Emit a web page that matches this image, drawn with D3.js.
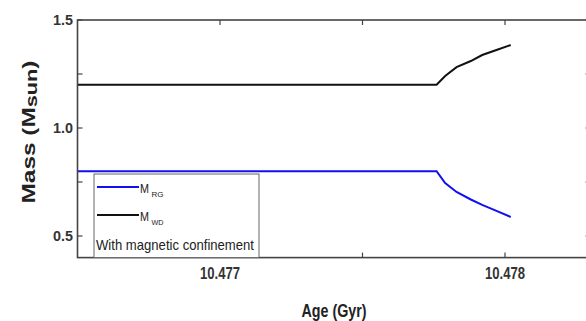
<!DOCTYPE html>
<html><head><meta charset="utf-8">
<script src="https://cdn.jsdelivr.net/npm/d3@7/dist/d3.min.js"></script>
<style>body{margin:0;background:#fff}svg{display:block}</style>
</head><body><svg id="c" width="586" height="321"></svg>
<script>
const ages   = [10.4765, 10.47776, 10.47779, 10.47783, 10.47788, 10.47792, 10.47797, 10.47802];
const massWD = [1.2, 1.2, 1.241, 1.282, 1.310, 1.338, 1.361, 1.384];
const massRG = [0.8, 0.8, 0.745, 0.704, 0.669, 0.644, 0.616, 0.588];
const xTicks = [10.477, 10.478];
const xMinor = [10.4775];
const yTicks = [0.5, 1.0, 1.5];
const yMinor = [0.75, 1.25];
const legendLabels = [{main:"M", sub:"RG", color:"#1010f0"}, {main:"M", sub:"WD", color:"#111"}];
const noteText = "With magnetic confinement";

const svg = d3.select("#c");
const x = d3.scaleLinear().domain([10.4765, 10.4783]).range([77.5, 590.5]);
const y = d3.scaleLinear().domain([0.4, 1.5]).range([257.6, 20]);
const L = x.range()[0], R = x.range()[1], T = y.range()[1], B = y.range()[0];
const axisColor = "#444";
const font = "'Liberation Sans',Arial,sans-serif";

// series
const line = d3.line().x(d => x(d[0])).y(d => y(d[1]));
svg.append("path").datum(ages.map((a,i)=>[a,massWD[i]])).attr("d", line)
  .attr("fill","none").attr("stroke","#111").attr("stroke-width",2);
svg.append("path").datum(ages.map((a,i)=>[a,massRG[i]])).attr("d", line)
  .attr("fill","none").attr("stroke","#1010f0").attr("stroke-width",2);

// frame
svg.append("rect").attr("x",L).attr("y",T).attr("width",R-L).attr("height",B-T)
  .attr("fill","none").attr("stroke",axisColor).attr("stroke-width",1.6);

// ticks (inside)
const tk = 5;
const g = svg.append("g").attr("stroke",axisColor).attr("stroke-width",1.2);
xTicks.concat(xMinor).forEach(v => {
  g.append("line").attr("x1",x(v)).attr("x2",x(v)).attr("y1",B).attr("y2",B-tk);
  g.append("line").attr("x1",x(v)).attr("x2",x(v)).attr("y1",T).attr("y2",T+tk);
});
yTicks.concat(yMinor).forEach(v => {
  g.append("line").attr("x1",L).attr("x2",L+tk).attr("y1",y(v)).attr("y2",y(v));
  g.append("line").attr("x1",R).attr("x2",R-tk).attr("y1",y(v)).attr("y2",y(v));
});

// tick labels
svg.selectAll(".xl").data(xTicks).enter().append("text")
  .attr("x", d => x(d)).attr("y", 279).attr("text-anchor","middle")
  .attr("font-family", font).attr("font-weight","bold").attr("font-size",17).attr("fill","#333")
  .attr("textLength",40).attr("lengthAdjust","spacingAndGlyphs")
  .text(d => d3.format(".3f")(d));
svg.selectAll(".yl").data(yTicks).enter().append("text")
  .attr("x", 73).attr("y", d => y(d)+5).attr("text-anchor","end")
  .attr("font-family", font).attr("font-weight","bold").attr("font-size",14).attr("fill","#333")
  .attr("textLength",20).attr("lengthAdjust","spacingAndGlyphs")
  .text(d => d3.format(".1f")(d));

// axis titles
svg.append("text").attr("x",334).attr("y",317).attr("text-anchor","middle")
  .attr("font-family", font).attr("font-weight","bold").attr("font-size",18).attr("fill","#222")
  .attr("textLength",65).attr("lengthAdjust","spacingAndGlyphs")
  .text("Age (Gyr)");
const yt = svg.append("text").attr("transform","translate(35,132) rotate(-90)").attr("text-anchor","middle")
  .attr("font-family", font).attr("font-weight","bold").attr("font-size",18).attr("fill","#222")
  .attr("textLength",143).attr("lengthAdjust","spacingAndGlyphs");
yt.append("tspan").text("Mass (M");
yt.append("tspan").attr("font-size",16).attr("dy",2).text("sun");
yt.append("tspan").attr("dy",-2).text(")");

// legend
const lg = svg.append("g");
lg.append("rect").attr("x",94).attr("y",174).attr("width",165).attr("height",B-174)
  .attr("fill","#fff").attr("stroke","#666").attr("stroke-width",1);
legendLabels.forEach((d,i) => {
  const ly = 187 + i*28;
  lg.append("line").attr("x1",97).attr("x2",139).attr("y1",ly).attr("y2",ly)
    .attr("stroke",d.color).attr("stroke-width",2);
  lg.append("text").attr("x",140).attr("y",ly+6)
    .attr("font-family",font).attr("font-size",13).attr("fill","#222")
    .attr("textLength",9).attr("lengthAdjust","spacingAndGlyphs").text(d.main);
  lg.append("text").attr("x",151.5).attr("y",ly+10)
    .attr("font-family",font).attr("font-size",8).attr("fill","#222")
    .attr("textLength",12).attr("lengthAdjust","spacingAndGlyphs").text(d.sub);
});
lg.append("text").attr("x",96).attr("y",250).attr("font-family",font).attr("font-size",15)
  .attr("fill","#222").attr("textLength",158).attr("lengthAdjust","spacingAndGlyphs").text(noteText);
</script></body></html>
